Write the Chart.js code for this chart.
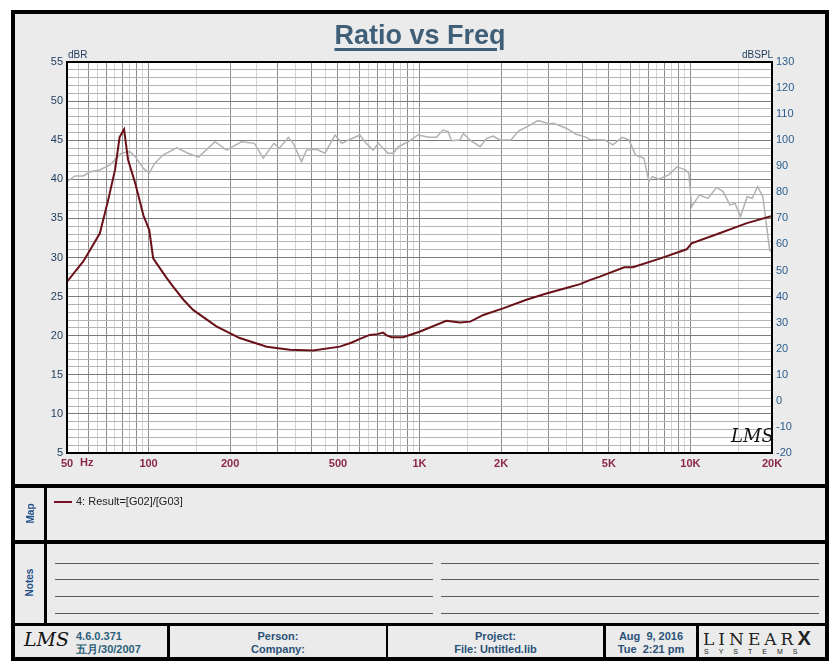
<!DOCTYPE html>
<html>
<head>
<meta charset="utf-8">
<script src="https://cdn.jsdelivr.net/npm/chart.js@4.4.0/dist/chart.umd.min.js"></script>
<style>
  body { margin: 0; background: #fff; }
  #page { position: relative; width: 840px; height: 672px; overflow: hidden; font-family: "Liberation Sans", Arial, sans-serif; }
  .frame { position: absolute; left: 11px; top: 10px; width: 810px; height: 643px; border: 4px solid #000; background: #ebebeb; }
  .bar { position: absolute; background: #000; }
  .note { position: absolute; height: 1px; background: #5a5a5a; }
  .txt { position: absolute; white-space: nowrap; }
  #grafico { position: absolute; left: 0; top: 0; }
  .title { left: 0; width: 840px; top: 20px; text-align: center; font-size: 27px; font-weight: bold; color: #3f5f78;
           text-decoration: underline; text-decoration-thickness: 3px; text-underline-offset: 4px; }
  .axisname { font-size: 10px; color: #1d3a5c; }
  .side { font-size: 10px; font-weight: bold; color: #1f4f88; transform: rotate(-90deg); transform-origin: center; }
  .foot { font-size: 11px; font-weight: bold; color: #2a5278; text-align: center; line-height: 13px; }
  .lms { font-family: "DejaVu Serif", serif; font-style: italic; color: #111; }
</style>
</head>
<body>
<div id="page">
  <div class="frame"></div>

  <!-- divisiones -->
  <div class="bar" style="left:11px;top:484px;width:818px;height:4px"></div>
  <div class="bar" style="left:11px;top:540px;width:818px;height:4px"></div>
  <div class="bar" style="left:11px;top:623px;width:818px;height:3px"></div>
  <div class="bar" style="left:44px;top:488px;width:3px;height:135px"></div>
  <div class="bar" style="left:167px;top:626px;width:3px;height:33px"></div>
  <div class="bar" style="left:386px;top:626px;width:2px;height:33px"></div>
  <div class="bar" style="left:603px;top:626px;width:3px;height:33px"></div>
  <div class="bar" style="left:696px;top:626px;width:3px;height:33px"></div>

  <!-- notas -->
  <div class="note" style="left:55px;top:563px;width:378px"></div>
  <div class="note" style="left:55px;top:579px;width:378px"></div>
  <div class="note" style="left:55px;top:596px;width:378px"></div>
  <div class="note" style="left:55px;top:613px;width:378px"></div>
  <div class="note" style="left:441px;top:563px;width:378px"></div>
  <div class="note" style="left:441px;top:579px;width:378px"></div>
  <div class="note" style="left:441px;top:596px;width:378px"></div>
  <div class="note" style="left:441px;top:613px;width:378px"></div>

  <canvas id="grafico" width="840" height="484"></canvas>

  <div class="txt title">Ratio vs Freq</div>
  <div class="txt axisname" style="left:68px;top:49px">dBR</div>
  <div class="txt axisname" style="left:742px;top:49px;color:#1d3a5c">dBSPL</div>
  <div class="txt" style="left:80px;top:456px;font-size:11px;font-weight:bold;color:#8a2846">Hz</div>
  <div class="txt lms" style="left:731px;top:425px;font-size:18px">LMS</div>

  <!-- mapa -->
  <div class="txt side" style="left:16px;top:508px;width:28px;text-align:center">Map</div>
  <div style="position:absolute;left:54px;top:501px;width:18px;height:2px;background:#7a1020"></div>
  <div class="txt" style="left:76px;top:495px;font-size:11px;color:#222">4: Result=[G02]/[G03]</div>
  <div class="txt side" style="left:9px;top:577px;width:40px;text-align:center">Notes</div>

  <!-- pie -->
  <div class="txt lms" style="left:24px;top:628px;font-size:19px">LMS</div>
  <div class="txt foot" style="left:76px;top:630px;text-align:left;color:#2b5f7a">4.6.0.371<br>五月/30/2007</div>
  <div class="txt foot" style="left:170px;top:630px;width:216px">Person:<br>Company:</div>
  <div class="txt foot" style="left:388px;top:630px;width:215px">Project:<br>File: Untitled.lib</div>
  <div class="txt foot" style="left:606px;top:630px;width:90px">Aug&nbsp; 9, 2016<br>Tue&nbsp; 2:21 pm</div>
  <div class="txt" style="left:703px;top:627px;font-family:'DejaVu Serif',serif;font-size:17px;letter-spacing:4px;color:#222">LINEAR<span style="font-family:'Liberation Sans',Arial,sans-serif;font-weight:900;font-size:20px;letter-spacing:0">X</span></div>
  <div class="txt" style="left:704px;top:648px;font-size:7px;letter-spacing:10px;color:#222">SYSTEMS</div>
</div>

<script>
// Datos de la curva roja (eje izquierdo, dBR)
const freqRatio = [50, 57.4, 60.9, 66.1, 71, 75.2, 78.2, 81.2, 84, 89.3, 95.7, 100.6, 104, 116, 123, 134.5, 146, 178, 217, 273,
  332, 405, 508, 560, 603, 655, 700, 733, 760, 790, 870, 1000, 1256, 1410, 1540, 1721, 2035, 2480, 2940, 3480,
  3915, 4250, 4630, 5700, 6130, 7700, 9680, 10100, 12800, 16150, 20000];
const ratioDb = [26.9, 29.5, 31.0, 33.1, 37.4, 41.2, 45.4, 46.4, 42.5, 39.5, 35.4, 33.5, 29.9, 27.5, 26.3, 24.6, 23.3, 21.2, 19.7, 18.6,
  18.2, 18.1, 18.6, 19.1, 19.6, 20.1, 20.2, 20.4, 20.0, 19.8, 19.8, 20.5, 21.9, 21.7, 21.8, 22.65, 23.5, 24.6, 25.4, 26.1,
  26.6, 27.1, 27.55, 28.75, 28.75, 29.85, 31.05, 31.8, 33.1, 34.4, 35.3];

// Datos de la curva gris (eje derecho, dBSPL)
const freqSpl = [50, 53.5, 57.4, 60.9, 66, 72, 79.4, 85.3, 89.3, 95.7, 100.6, 105.3, 113, 127, 140, 153, 176, 194, 220, 246,
  265, 290, 304, 328, 342, 367, 383, 417, 448, 488, 517, 548, 603, 628, 674, 705, 765, 800, 836, 907,
  987, 1080, 1155, 1222, 1275, 1312, 1410, 1452, 1534, 1675, 1770, 1870, 1980, 2175, 2325, 2520, 2735, 2840, 3000, 3125,
  3480, 3770, 4130, 4250, 4820, 5170, 5600, 5930, 6270, 6730, 7030, 7230, 7650, 8300, 8920, 9590, 9860, 10100, 10800, 11600,
  12500, 13200, 14000, 14600, 15300, 16200, 16900, 17700, 18500, 19600, 20000];
const splDb = [84.1, 86.3, 86.3, 87.9, 88.6, 90.5, 95, 95.6, 93.7, 89.2, 87.5, 91.1, 94.3, 97.1, 95, 93.5, 99.4, 96.2, 99.4, 98.8,
  93.1, 98.8, 96.9, 101.1, 98.8, 91.8, 96.2, 96.5, 95, 102, 98.8, 100.1, 102, 99.4, 96.2, 98.8, 95, 95, 97.5, 99.4,
  102, 101.1, 101.1, 103.9, 103.3, 99.8, 100.1, 102.6, 100.1, 97.5, 100.7, 101.6, 100.1, 100.1, 103.6, 105.4, 107.5, 107.1, 106.3, 106.5,
  104.6, 102.4, 101.1, 100.3, 100.1, 98.2, 101.1, 100.1, 94.3, 93.1, 84.1, 86, 85, 86.7, 89.8, 88.6, 87.3, 74.5, 79, 77.7,
  81.9, 80.3, 75.1, 75.8, 70.7, 78.3, 77.7, 82.2, 78.3, 57.9, 56.7];

// Etiquetas de los ejes
const xTickLabels = { 50: '50', 100: '100', 200: '200', 500: '500', 1000: '1K', 2000: '2K', 5000: '5K', 10000: '10K', 20000: '20K' };
const leftTicks = [5, 10, 15, 20, 25, 30, 35, 40, 45, 50, 55];
const rightTicks = [-20, -10, 0, 10, 20, 30, 40, 50, 60, 70, 80, 90, 100, 110, 120, 130];

// lineas verticales de la rejilla: cada media unidad de cada decada
let gridFreqs = [];
[10, 100, 1000, 10000].forEach((base) => {
  for (let m = 1; m < 10; m += 0.5) {
    const v = m * base;
    if (v >= 50 && v <= 20000) gridFreqs.push(v);
  }
});
let gridDb = [];
for (let v = 5; v <= 55; v++) gridDb.push(v);

function mantisa(v) {
  return v / Math.pow(10, Math.floor(Math.log10(v) + 1e-9));
}

const fondoPlot = {
  id: 'fondoPlot',
  beforeDraw(chart) {
    const a = chart.chartArea;
    const ctx = chart.ctx;
    ctx.save();
    ctx.fillStyle = '#ffffff';
    ctx.fillRect(a.left, a.top, a.right - a.left, a.bottom - a.top);
    ctx.restore();
  },
  afterDraw(chart) {
    const a = chart.chartArea;
    const ctx = chart.ctx;
    ctx.save();
    ctx.strokeStyle = '#000';
    ctx.lineWidth = 2;
    ctx.strokeRect(a.left, a.top, a.right - a.left, a.bottom - a.top);
    ctx.restore();
  }
};

const ctx = document.getElementById('grafico').getContext('2d');
new Chart(ctx, {
  type: 'line',
  data: {
    datasets: [{
      label: '4: Result=[G02]/[G03]',
      data: freqRatio.map((f, i) => ({ x: f, y: ratioDb[i] })),
      borderColor: '#6a1019',
      borderWidth: 2,
      pointRadius: 0,
      tension: 0,
      yAxisID: 'y'
    }, {
      label: 'SPL',
      data: freqSpl.map((f, i) => ({ x: f, y: splDb[i] })),
      borderColor: '#b2b2b2',
      borderWidth: 1.5,
      pointRadius: 0,
      tension: 0,
      yAxisID: 'ySpl'
    }]
  },
  options: {
    responsive: false,
    animation: false,
    events: [],
    layout: { padding: { top: 62, left: 0, right: 0, bottom: 0 } },
    plugins: { legend: { display: false }, tooltip: { enabled: false } },
    scales: {
      x: {
        type: 'logarithmic',
        min: 50,
        max: 20000,
        afterBuildTicks: (scale) => { scale.ticks = gridFreqs.map((v) => ({ value: v })); },
        afterFit: (scale) => { scale.height = 31; },
        grid: {
          drawTicks: false,
          color: (c) => (c.tick && Number.isInteger(Math.round(mantisa(c.tick.value) * 1000) / 1000)) ? '#8c8c8c' : '#d4d4d4'
        },
        border: { display: false },
        ticks: {
          autoSkip: false,
          maxRotation: 0,
          padding: 4,
          color: '#8a2846',
          font: { family: 'Liberation Sans', size: 11, weight: 'bold' },
          callback: (v) => xTickLabels[Math.round(v)] || ''
        }
      },
      y: {
        position: 'left',
        min: 5,
        max: 55,
        afterBuildTicks: (scale) => { scale.ticks = gridDb.map((v) => ({ value: v })); },
        afterFit: (scale) => { scale.width = 67; },
        grid: {
          drawTicks: false,
          color: (c) => (c.tick && leftTicks.includes(c.tick.value)) ? '#7c7c7c' : '#b4b4b4'
        },
        border: { display: false },
        ticks: {
          autoSkip: false,
          padding: 4,
          color: '#1d3a5c',
          font: { family: 'Liberation Sans', size: 11 },
          callback: (v) => leftTicks.includes(v) ? String(v) : ''
        }
      },
      ySpl: {
        position: 'right',
        min: -20,
        max: 130,
        afterBuildTicks: (scale) => { scale.ticks = rightTicks.map((v) => ({ value: v })); },
        afterFit: (scale) => { scale.width = 68; },
        grid: { display: false, drawTicks: false },
        border: { display: false },
        ticks: {
          autoSkip: false,
          padding: 4,
          color: '#2b5d8c',
          font: { family: 'Liberation Sans', size: 11 }
        }
      }
    }
  },
  plugins: [fondoPlot]
});
</script>
</body>
</html>
